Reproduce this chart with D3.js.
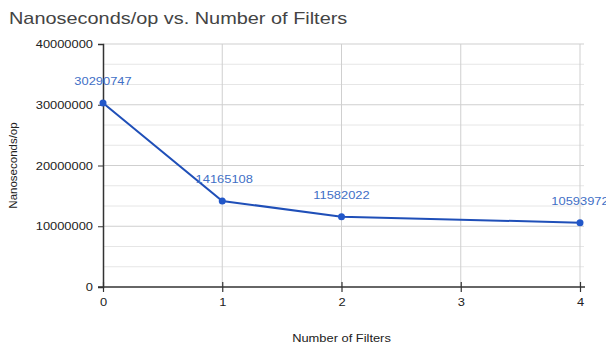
<!DOCTYPE html>
<html><head><meta charset="utf-8">
<script src="https://cdn.jsdelivr.net/npm/d3@7"></script>
<style>body{margin:0;background:#fff;}svg{display:block;font-family:"Liberation Sans",Arial,sans-serif;}</style>
</head><body>
<svg id="c" width="606" height="343"></svg>
<script>
const xValues = [0, 1, 2, 4];
const yValues = [30290747, 14165108, 11582022, 10593972];
const xTicks = [0, 1, 2, 3, 4];
const yTicks = [0, 10000000, 20000000, 30000000, 40000000];
const title = "Nanoseconds/op vs. Number of Filters";
const xTitle = "Number of Filters";
const yTitle = "Nanoseconds/op";

const STRETCH = 1.17;
const svg = d3.select("#c");
const x = d3.scaleLinear().domain([0, 4]).range([103, 580]);
const y = d3.scaleLinear().domain([0, 40000000]).range([287, 44]);

svg.append("rect").attr("width", 606).attr("height", 343).attr("fill", "#fff");

// minor horizontal gridlines (thirds)
const minor = [];
for (let i = 0; i < yTicks.length - 1; i++) {
  const a = yTicks[i], b = yTicks[i + 1];
  minor.push(a + (b - a) / 3, a + 2 * (b - a) / 3);
}
svg.append("g").selectAll("line").data(minor).join("line")
  .attr("x1", x(0)).attr("x2", 584)
  .attr("y1", d => y(d)).attr("y2", d => y(d))
  .attr("stroke", "#e6e6e6").attr("stroke-width", 1);

// major horizontal gridlines
svg.append("g").selectAll("line").data(yTicks.slice(1)).join("line")
  .attr("x1", x(0)).attr("x2", 584)
  .attr("y1", d => y(d)).attr("y2", d => y(d))
  .attr("stroke", "#cfcfcf").attr("stroke-width", 1);

// vertical gridlines
svg.append("g").selectAll("line").data(xTicks.slice(1)).join("line")
  .attr("x1", d => x(d)).attr("x2", d => x(d))
  .attr("y1", y(40000000)).attr("y2", y(0))
  .attr("stroke", "#cfcfcf").attr("stroke-width", 1);

// axes
const yAxis = d3.axisLeft(y).tickValues(yTicks).tickFormat(d3.format("d")).tickSize(5).tickPadding(5);
const gy = svg.append("g").attr("transform", `translate(${x(0)},0)`).call(yAxis);
gy.select(".domain").attr("stroke", "#333").attr("stroke-width", 1.5);
gy.selectAll(".tick line").attr("stroke", "#333");
gy.selectAll("text").attr("font-size", 11).attr("fill", "#222").attr("font-family", "Liberation Sans, Arial, sans-serif").classed("stretch", true);

const xAxis = d3.axisBottom(x).tickValues(xTicks).tickFormat(d3.format("d")).tickSizeInner(5).tickSizeOuter(0).tickPadding(6);
const gx = svg.append("g").attr("transform", `translate(0,${y(0)})`).call(xAxis);
gx.select(".domain").attr("stroke", "#333").attr("stroke-width", 1.5).attr("d", `M${x(0)-5},0H${x(4)+5}`);
gx.selectAll(".tick line").attr("stroke", "#333").attr("y1", -5).attr("stroke-width", 1.2);
gx.selectAll("text").attr("font-size", 11).attr("fill", "#222").attr("font-family", "Liberation Sans, Arial, sans-serif").classed("stretch", true);

// line
const pts = xValues.map((d, i) => [d, yValues[i]]);
svg.append("path").datum(pts)
  .attr("fill", "none").attr("stroke", "#1f4fb8").attr("stroke-width", 2)
  .attr("d", d3.line().x(d => x(d[0])).y(d => y(d[1])));

svg.append("g").selectAll("circle").data(pts).join("circle")
  .attr("cx", d => x(d[0])).attr("cy", d => y(d[1])).attr("r", 3.5)
  .attr("fill", "#2257c9");

svg.append("g").selectAll("text").data(pts).join("text")
  .attr("class", "stretch")
  .attr("x", d => x(d[0]) + (d[0] === 1 ? 2 : 0)).attr("y", d => y(d[1]) - 18)
  .attr("text-anchor", "middle").attr("font-size", 11).attr("fill", "#3f6fc6")
  .text(d => d[1]);

// titles
svg.append("text").attr("class", "stretch").attr("x", 9).attr("y", 24).attr("font-size", 17).attr("fill", "#444").text(title);
svg.append("text").attr("transform", `translate(17,${(y(0)+y(40000000))/2}) rotate(-90)`)
  .attr("text-anchor", "middle").attr("font-size", 11.5).attr("fill", "#222").text(yTitle);
svg.append("text").attr("class", "stretch").attr("x", x(2)).attr("y", 342).attr("text-anchor", "middle")
  .attr("font-size", 11).attr("fill", "#222").text(xTitle);

// the reference picture is slightly wider than tall: stretch text horizontally
svg.selectAll("text.stretch").each(function () {
  const len = this.getComputedTextLength();
  d3.select(this).attr("textLength", len * STRETCH).attr("lengthAdjust", "spacingAndGlyphs");
});
</script>
</body></html>
